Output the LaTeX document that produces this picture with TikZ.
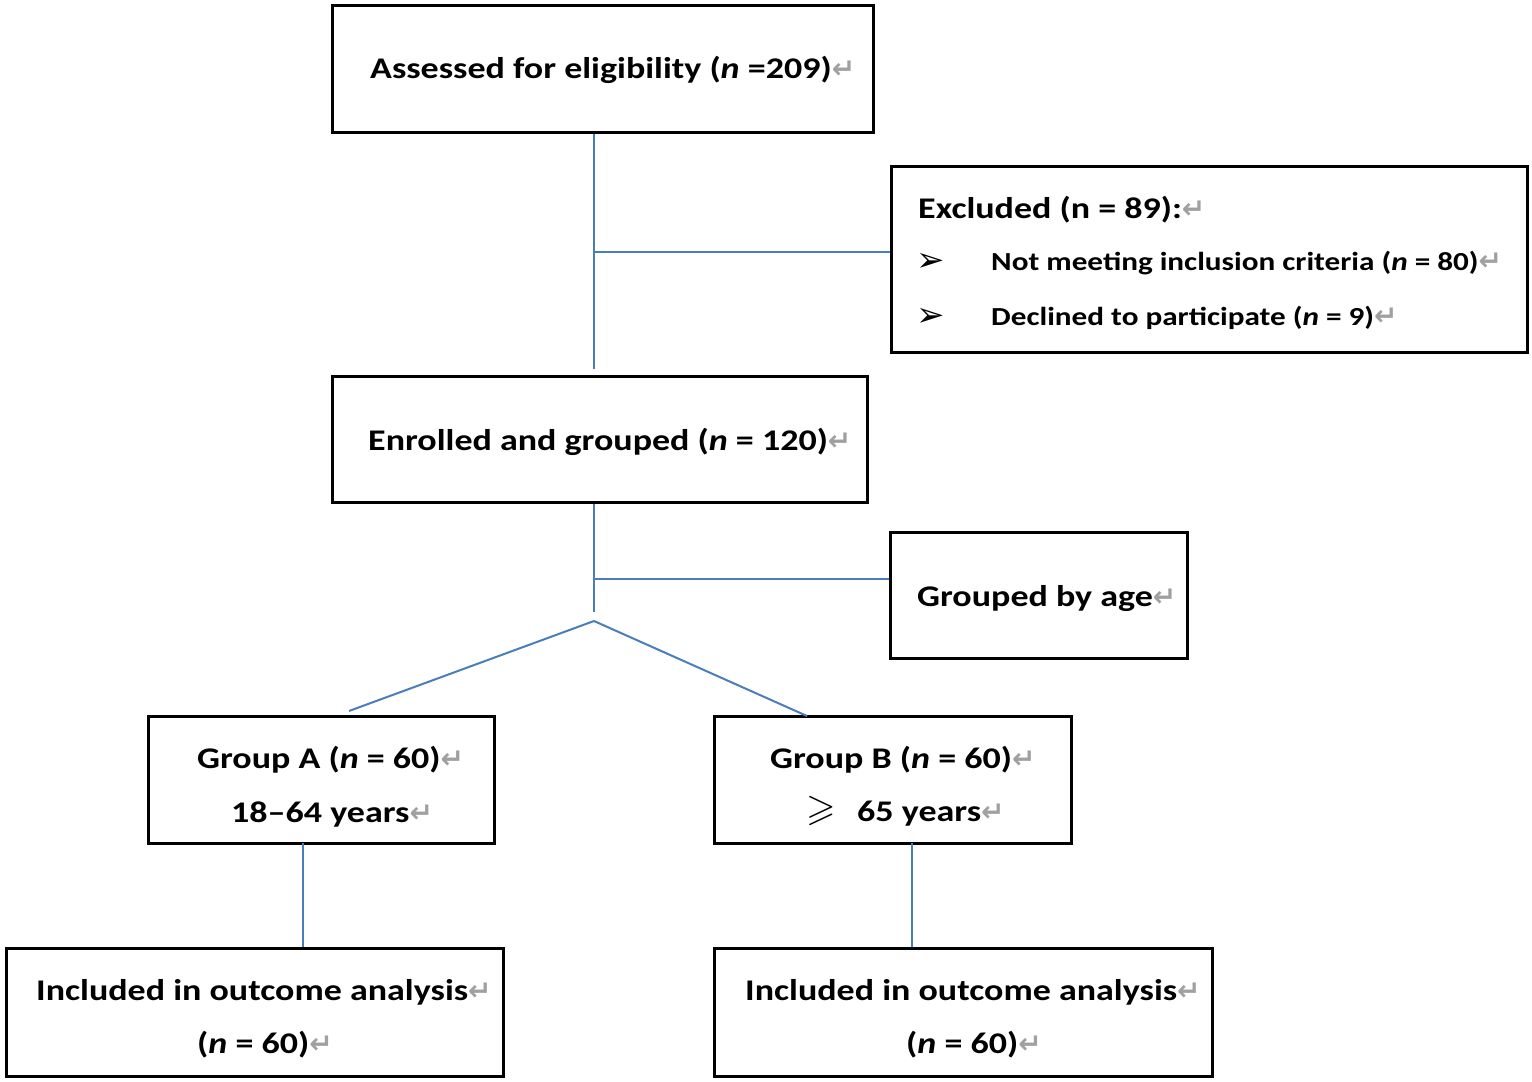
\documentclass[tikz,border=0pt]{standalone}
\usepackage{amssymb}
\usepackage{fontspec}
\setmainfont{Carlito}[FakeStretch=1.2]
\newfontfamily\djv{DejaVu Sans}
\definecolor{conncol}{HTML}{4A7EBB}
\definecolor{retcol}{HTML}{A0A0A0}
\newcommand{\rt}{{\djv\fontsize{28}{28}\selectfont\color{retcol}\char"21B5}}
\newcommand{\bul}{{\djv\fontsize{34}{34}\selectfont\char"27A2}}
\begin{document}
\begin{tikzpicture}[x=1pt,y=-1pt,
  box/.style={draw=black,line width=3pt,rectangle,inner sep=0pt},
  conn/.style={draw=conncol,line width=2pt},
  txt/.style={anchor=west,inner sep=0pt,font=\fontsize{30}{30}\selectfont\bfseries}]
\useasboundingbox (0,0) rectangle (1532,1082);
% boxes
\node[box,minimum width=541pt,minimum height=127pt] (b1) at (602.5,68.5) {};
\node[box,minimum width=636pt,minimum height=186pt] (ex) at (1209,259) {};
\node[box,minimum width=535pt,minimum height=126pt] (b2) at (599.5,439) {};
\node[box,minimum width=297pt,minimum height=126pt] (gr) at (1038.5,595) {};
\node[box,minimum width=346pt,minimum height=127pt] (ga) at (321,779.5) {};
\node[box,minimum width=357pt,minimum height=127pt] (gb) at (892.5,779.5) {};
\node[box,minimum width=497pt,minimum height=128pt] (fa) at (254.5,1012) {};
\node[box,minimum width=498pt,minimum height=128pt] (fb) at (963,1012) {};
% texts
\node[txt] (t1) at (370,70) {Assessed for eligibility (\textit{n} =209)\rt};
\node[txt] (t2) at (918,210) {Excluded (n = 89):\rt};
\node[inner sep=0pt] (u1) at (931,262) {\bul};
\node[txt,font=\fontsize{26}{26}\selectfont\bfseries] (t3) at (991,263) {Not meeting inclusion criteria (\textit{n} = 80)\rt};
\node[inner sep=0pt] (u2) at (931,317) {\bul};
\node[txt,font=\fontsize{26}{26}\selectfont\bfseries] (t4) at (991,318) {Declined to participate (\textit{n} = 9)\rt};
\node[txt] (t5) at (368,442) {Enrolled and grouped (\textit{n} = 120)\rt};
\node[txt] (t6) at (917,599) {Grouped by age\rt};
\node[txt] (t7) at (197,760) {Group A (\textit{n} = 60)\rt};
\node[txt] (t8) at (231,814) {18--64 years\rt};
\node[txt] (t9) at (770,760) {Group B (\textit{n} = 60)\rt};
\node[inner sep=0pt,font=\fontsize{38}{38}\selectfont] (ge) at (821,811) {$\geqslant$};
\node[txt] (t10) at (857,814) {65 years\rt};
\node[txt] (t11) at (36,992) {Included in outcome analysis\rt};
\node[txt] (t12) at (197,1045) {(\textit{n} = 60)\rt};
\node[txt] (t13) at (745,992) {Included in outcome analysis\rt};
\node[txt] (t14) at (906,1045) {(\textit{n} = 60)\rt};
% connectors
\coordinate (j1) at (594,252);
\coordinate (e1) at (594,369);
\coordinate (j2) at (594,579);
\coordinate (e2) at (594,612);
\coordinate (s) at (594,621);
\coordinate (la) at (349,711);
\coordinate (lb) at (807,716);
\coordinate (va) at (303,843);
\coordinate (vb) at (912,843);
\draw[conn] (b1.south -| j1) -- (e1);
\draw[conn] (j1) -- (j1 -| ex.west);
\draw[conn] (b2.south -| j2) -- (e2);
\draw[conn] (j2) -- (j2 -| gr.west);
\draw[conn] (s) -- (la);
\draw[conn] (s) -- (lb);
\draw[conn] (va) -- (va |- fa.north);
\draw[conn] (vb) -- (vb |- fb.north);
\end{tikzpicture}
\end{document}
